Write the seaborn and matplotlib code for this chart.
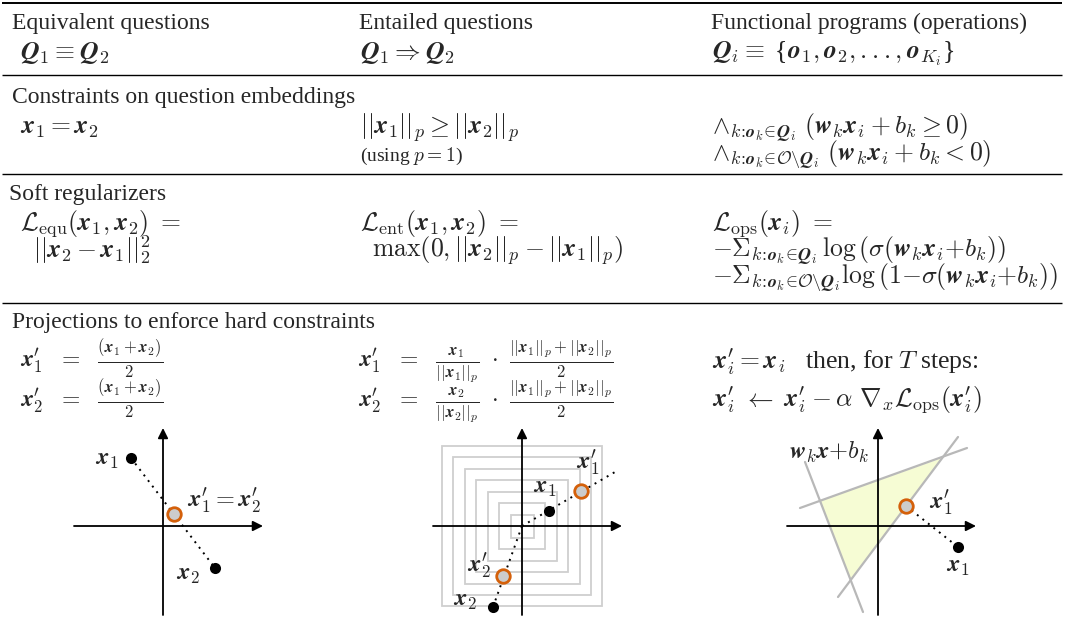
import matplotlib
matplotlib.use("Agg")
import matplotlib.pyplot as plt
from matplotlib.patches import Rectangle, Polygon
import seaborn as sns

sns.set_style("white")
plt.rcParams["font.family"] = ["Liberation Serif", "DejaVu Serif"]
plt.rcParams["mathtext.fontset"] = "cm"

W, H = 1067, 632

# ---------------- table text ----------------
col_titles = ["Equivalent questions", "Entailed questions",
              "Functional programs (operations)"]
col_relations = [r"$\boldsymbol{Q}_1 \equiv \boldsymbol{Q}_2$",
                 r"$\boldsymbol{Q}_1 \Rightarrow \boldsymbol{Q}_2$",
                 r"$\boldsymbol{Q}_i \equiv$ {$\boldsymbol{o}_1, \boldsymbol{o}_2, ..., \boldsymbol{o}_{K_i}$}"]
section_titles = ["Constraints on question embeddings", "Soft regularizers",
                  "Projections to enforce hard constraints"]

constraint_equ = [r"$\boldsymbol{x}_1 = \boldsymbol{x}_2$"]
constraint_ent = [r"$||\boldsymbol{x}_1||_p \geq ||\boldsymbol{x}_2||_p$"]
constraint_ent_note = r"(using $p = 1$)"
constraint_ops = [
    r"$\wedge_{k\!:\!\boldsymbol{o}_k\!\in\!\boldsymbol{Q}_i}\ (\boldsymbol{w}_k\boldsymbol{x}_i + b_k \geq 0)$",
    r"$\wedge_{k\!:\!\boldsymbol{o}_k\!\in\!\mathcal{O}\backslash\boldsymbol{Q}_i}\ (\boldsymbol{w}_k\boldsymbol{x}_i + b_k < 0)$",
]

soft_equ = [r"$\mathcal{L}_{\mathrm{equ}}(\boldsymbol{x}_1, \boldsymbol{x}_2)\ =$",
            r"$||\boldsymbol{x}_2 - \boldsymbol{x}_1||_2^2$"]
soft_ent = [r"$\mathcal{L}_{\mathrm{ent}}(\boldsymbol{x}_1, \boldsymbol{x}_2)\ =$",
            r"$\max\left(0, ||\boldsymbol{x}_2||_p - ||\boldsymbol{x}_1||_p\right)$"]
soft_ops = [
    r"$\mathcal{L}_{\mathrm{ops}}(\boldsymbol{x}_i)\ =$",
    r"$-\Sigma_{k\!:\!\boldsymbol{o}_k\!\in\!\boldsymbol{Q}_i}\,\log\left(\sigma(\boldsymbol{w}_k\boldsymbol{x}_i{+}b_k)\right)$",
    r"$-\Sigma_{k\!:\!\boldsymbol{o}_k\!\in\!\mathcal{O}\backslash\boldsymbol{Q}_i}\log\left(1{-}\sigma(\boldsymbol{w}_k\boldsymbol{x}_i{+}b_k)\right)$",
]

proj_equ = [r"$\boldsymbol{x}^{\prime}_1\ \ =\ \ \frac{(\boldsymbol{x}_1 + \boldsymbol{x}_2)}{2}$",
            r"$\boldsymbol{x}^{\prime}_2\ \ =\ \ \frac{(\boldsymbol{x}_1 + \boldsymbol{x}_2)}{2}$"]
proj_ent = [r"$\boldsymbol{x}^{\prime}_1\ \ =\ \ \frac{\boldsymbol{x}_1}{||\boldsymbol{x}_1||_p}\ \cdot\ \frac{||\boldsymbol{x}_1||_p + ||\boldsymbol{x}_2||_p}{2}$",
            r"$\boldsymbol{x}^{\prime}_2\ \ =\ \ \frac{\boldsymbol{x}_2}{||\boldsymbol{x}_2||_p}\ \cdot\ \frac{||\boldsymbol{x}_1||_p + ||\boldsymbol{x}_2||_p}{2}$"]
proj_ops = [r"$\boldsymbol{x}^{\prime}_i = \boldsymbol{x}_i$   then, for $T$ steps:",
            r"$\boldsymbol{x}^{\prime}_i\ \leftarrow\ \boldsymbol{x}^{\prime}_i - \alpha\ \nabla_x\mathcal{L}_{\mathrm{ops}}(\boldsymbol{x}^{\prime}_i)$"]

# ---------------- diagram data (offsets from each origin, y up) ----------------
eq_x1 = [-32, 68]
eq_x2 = [52, -42]
eq_proj = [11, 12]

ent_radii = [11.5, 23, 34.5, 46, 57.5, 69, 80]
ent_x1 = [27, 15]
ent_x1p = [59, 35]
ent_ray_end = [93, 54]
ent_x2 = [-29, -81]
ent_x2p = [-19, -50]

ops_lines = [[(-78, 18), (89, 78)], [(-40, -71), (80, 89)], [(-73, 64), (-15, -86)]]
ops_region = [(64, 68), (-58, 25), (-27, -54)]
ops_x1 = [80, -21]
ops_x1p = [28, 20]

ORANGE = "#d4600a"
TXT = 17
MATH = 18.5

fig = plt.figure(figsize=(W / 100, H / 100), dpi=100)
ax = fig.add_axes([0, 0, 1, 1])
ax.set_xlim(0, W)
ax.set_ylim(H, 0)
ax.axis("off")


def put(x, y, s, size=MATH):
    ax.text(x, y, s, fontsize=size, ha="left", va="baseline")


# rules
ax.hlines(3, 2, 1062, color="k", lw=1.4)
for y in [75, 174, 303]:
    ax.hlines(y, 2, 1062, color="k", lw=1.0)

cols = [12, 359, 711]
mcols = [20, 360, 712]
for c, m, t, r in zip(cols, mcols, col_titles, col_relations):
    put(c, 29, t, TXT)
    put(m, 59, r)

put(cols[0], 103, section_titles[0], TXT)
put(mcols[0], 134, constraint_equ[0])
put(mcols[1], 134, constraint_ent[0])
put(mcols[1], 161, constraint_ent_note, size=14)
put(mcols[2], 134, constraint_ops[0])
put(mcols[2], 161, constraint_ops[1])

put(cols[0] - 3, 200, section_titles[1], TXT)
put(mcols[0], 230, soft_equ[0])
put(mcols[0] + 13, 257, soft_equ[1])
put(mcols[1], 230, soft_ent[0])
put(mcols[1] + 12, 257, soft_ent[1])
for y, s in zip([230, 257, 284], soft_ops):
    put(mcols[2], y, s)

put(cols[0], 328, section_titles[2], TXT)
put(mcols[0], 367, proj_equ[0], 17)
put(mcols[0], 407, proj_equ[1], 17)
put(mcols[1] - 2, 367, proj_ent[0], 17)
put(mcols[1] - 2, 407, proj_ent[1], 17)
put(mcols[2], 368, proj_ops[0])
put(mcols[2], 407, proj_ops[1])


def diagram(ox, oy):
    a = fig.add_axes([(ox - 100) / W, (H - (oy + 100)) / H, 210 / W, 210 / H])
    a.set_xlim(-100, 110)
    a.set_ylim(-100, 110)
    a.axis("off")
    return a


def axes_arrows(a, hspan=(-89, 100), vspan=(-89, 98)):
    props = dict(arrowstyle="-|>", color="k", lw=1.3, mutation_scale=15,
                 shrinkA=0, shrinkB=0)
    a.annotate("", xy=(hspan[1], 0), xytext=(hspan[0], 0), arrowprops=props, zorder=3)
    a.annotate("", xy=(0, vspan[1]), xytext=(0, vspan[0]), arrowprops=props, zorder=3)


def dots(a, p, q):
    sns.lineplot(x=[p[0], q[0]], y=[p[1], q[1]], ax=a, sort=False, estimator=None,
                 color="k", lw=1.4, linestyle=(0, (1, 2.6)), zorder=4)


def points(a, pts):
    sns.scatterplot(x=[p[0] for p in pts], y=[p[1] for p in pts], ax=a, s=64,
                    color="k", linewidth=0, zorder=6, legend=False)


def rings(a, pts):
    sns.scatterplot(x=[p[0] for p in pts], y=[p[1] for p in pts], ax=a, s=95,
                    color="#cccccc", edgecolor=ORANGE, linewidth=2.0, zorder=7,
                    legend=False)


def label(a, x, y, s, size=17.5):
    a.text(x, y, s, fontsize=size, ha="center", va="center", zorder=8)


# diagram 1: equivalence
d1 = diagram(163, 526)
axes_arrows(d1)
dots(d1, eq_x1, eq_x2)
points(d1, [eq_x1, eq_x2])
rings(d1, [eq_proj])
label(d1, -56, 66, r"$\boldsymbol{x}_1$")
label(d1, 61, 26, r"$\boldsymbol{x}^{\prime}_1 = \boldsymbol{x}^{\prime}_2$")
label(d1, 25, -49, r"$\boldsymbol{x}_2$")

# diagram 2: entailment
d2 = diagram(522, 526)
for r in ent_radii:
    d2.add_patch(Rectangle((-r, -r), 2 * r, 2 * r, fill=False, ec="#cfcfcf",
                           lw=1.3, zorder=1))
axes_arrows(d2)
dots(d2, (0, 0), ent_ray_end)
dots(d2, (0, 0), ent_x2)
points(d2, [ent_x1, ent_x2])
rings(d2, [ent_x1p, ent_x2p])
label(d2, 66, 64, r"$\boldsymbol{x}^{\prime}_1$")
label(d2, 23, 38, r"$\boldsymbol{x}_1$")
label(d2, -43, -39, r"$\boldsymbol{x}^{\prime}_2$")
label(d2, -57, -76, r"$\boldsymbol{x}_2$")

# diagram 3: operations
d3 = diagram(878, 526)
d3.add_patch(Polygon(ops_region, closed=True, fc="#f6fcd4", ec="none", zorder=1))
for (p, q) in ops_lines:
    sns.lineplot(x=[p[0], q[0]], y=[p[1], q[1]], ax=d3, sort=False, estimator=None,
                 color="#b8b8b8", lw=1.6, zorder=2)
axes_arrows(d3, hspan=(-91, 98))
dots(d3, ops_x1p, ops_x1)
points(d3, [ops_x1])
rings(d3, [ops_x1p])
label(d3, -49, 74, r"$\boldsymbol{w}_k\boldsymbol{x}{+}b_k$")
label(d3, 63, 24, r"$\boldsymbol{x}^{\prime}_1$")
label(d3, 80, -42, r"$\boldsymbol{x}_1$")

fig.savefig("out.png", dpi=100)
